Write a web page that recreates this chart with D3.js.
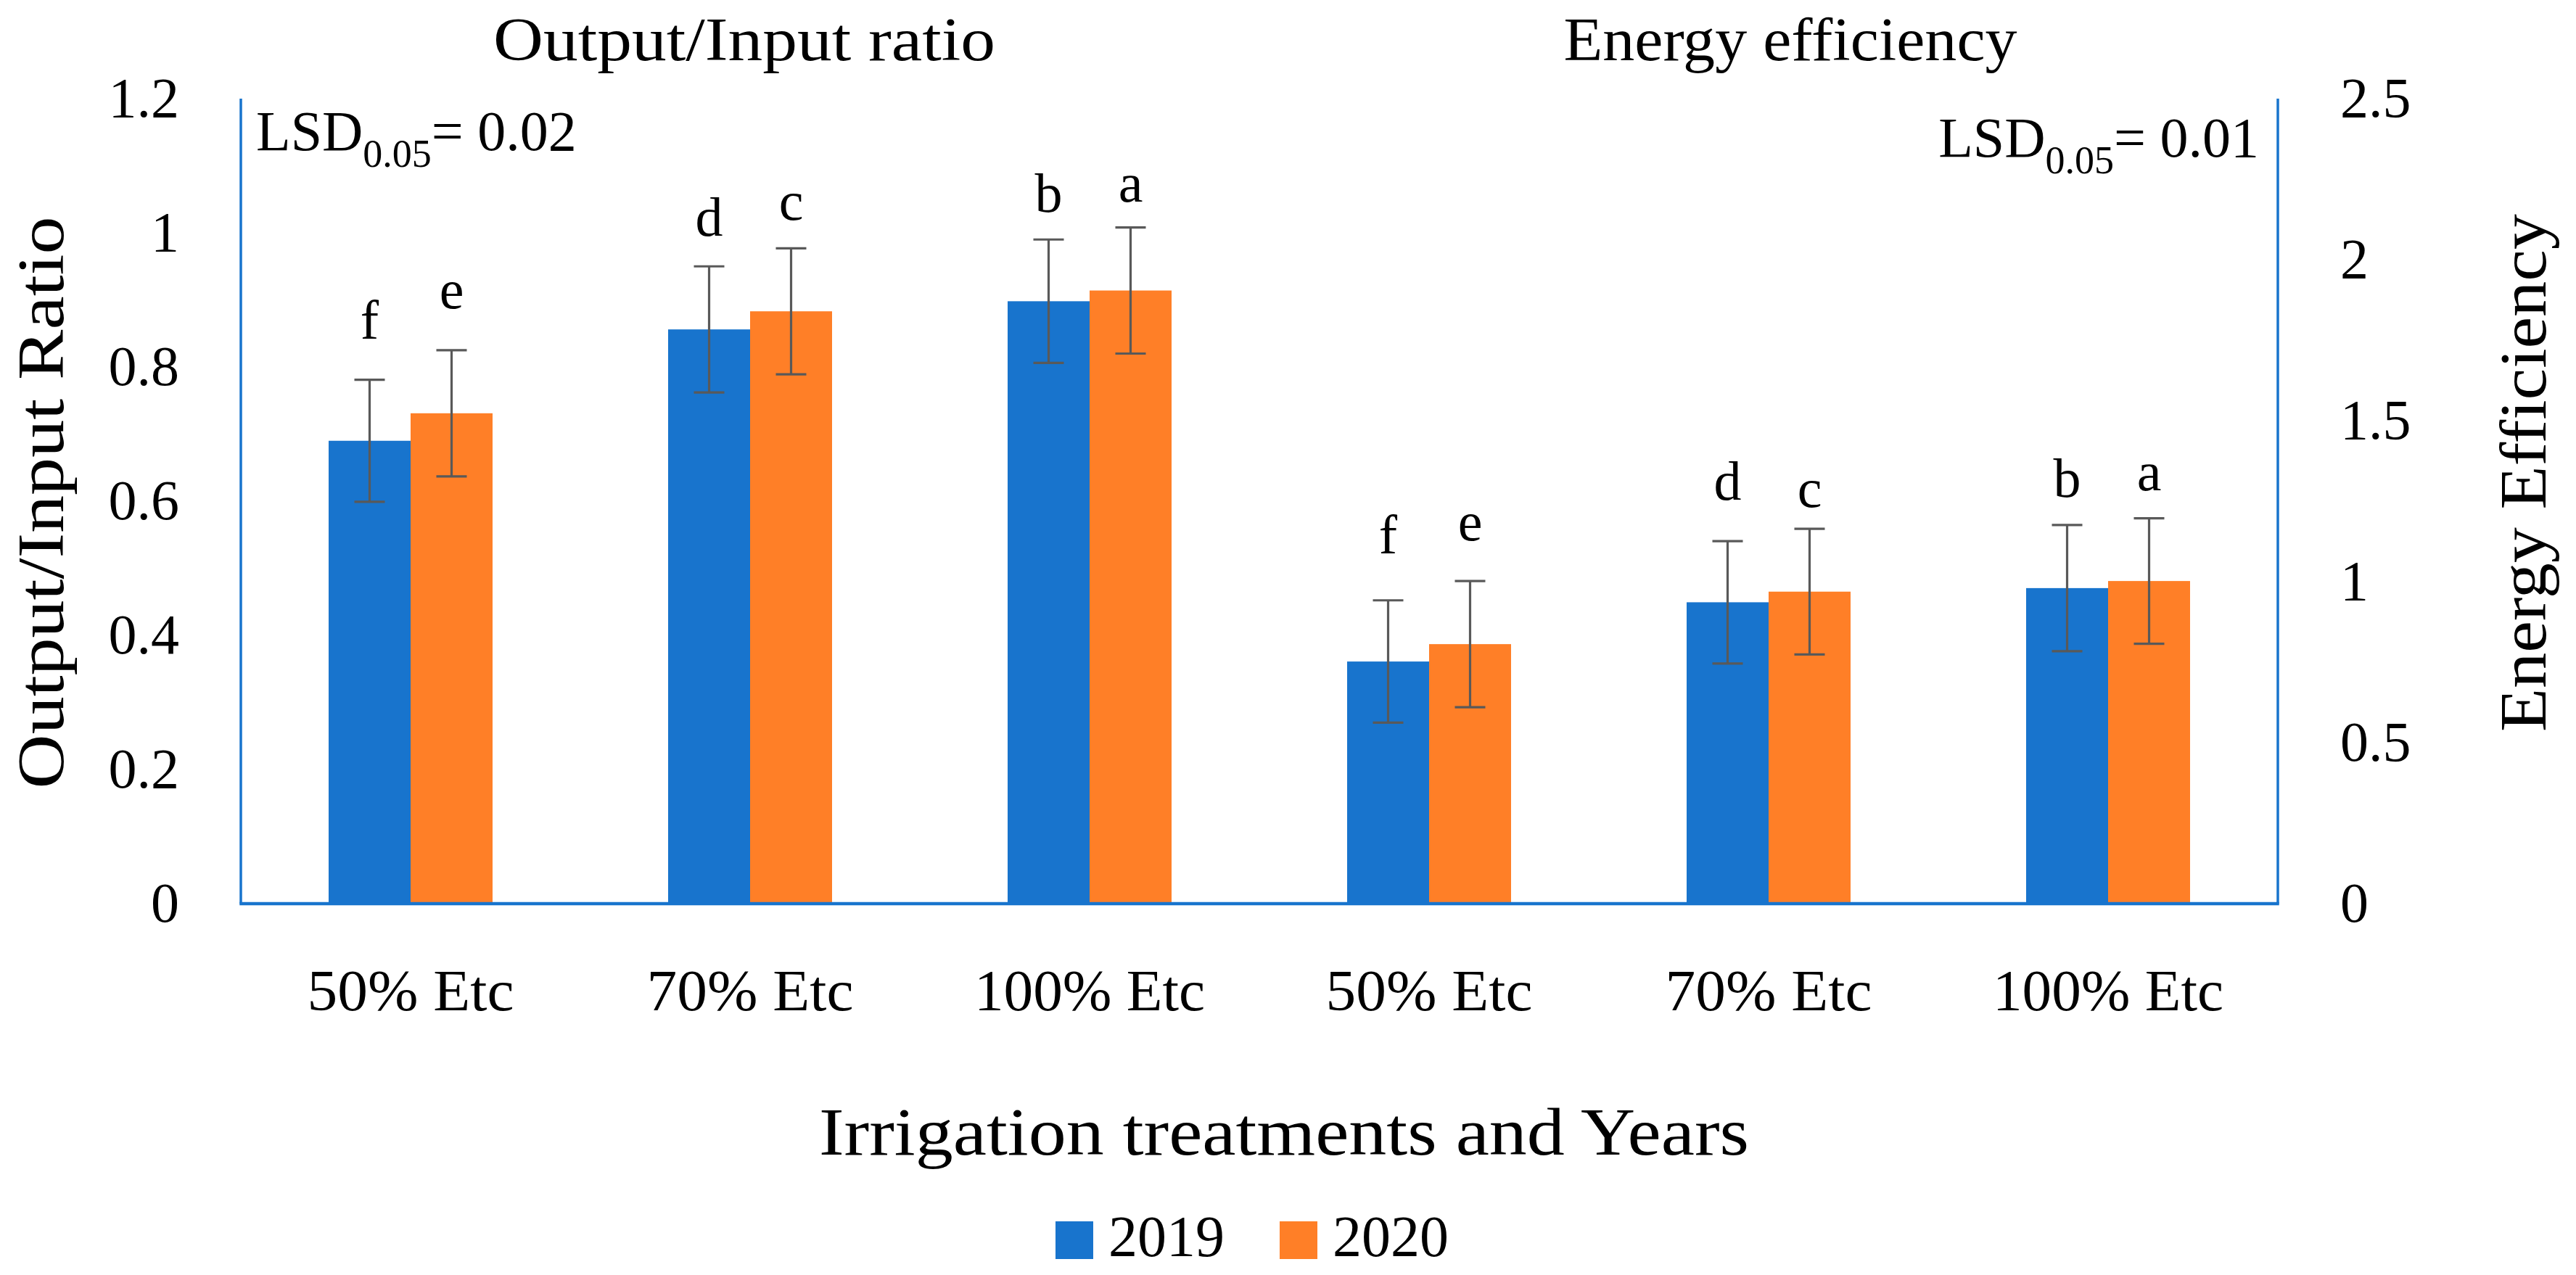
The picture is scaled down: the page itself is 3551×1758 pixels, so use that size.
<!DOCTYPE html>
<html>
<head>
<meta charset="utf-8">
<script src="https://cdn.jsdelivr.net/npm/d3@7"></script>
<style>
  html, body { margin: 0; padding: 0; background: #fff; }
  svg { display: block; }
  text { font-family: "Palatino Linotype", "Book Antiqua", Palatino, "Liberation Serif", serif; fill: #000; }
</style>
</head>
<body>
<svg id="chart" width="3551" height="1758"></svg>
<script>
// ---------------- data ----------------
const categories = ["50% Etc", "70% Etc", "100% Etc", "50% Etc", "70% Etc", "100% Etc"];
const axisOf = ["left", "left", "left", "right", "right", "right"];
const series = ["2019", "2020"];
const values2019 = [0.690, 0.856, 0.898, 0.752, 0.936, 0.980];
const values2020 = [0.731, 0.883, 0.914, 0.806, 0.969, 1.002];
const err2019 = [0.091, 0.094, 0.092, 0.190, 0.190, 0.196];
const err2020 = [0.094, 0.094, 0.094, 0.196, 0.195, 0.195];
const letters2019 = ["f", "d", "b", "f", "d", "b"];
const letters2020 = ["e", "c", "a", "e", "c", "a"];
const letterAt2019 = [0.842, 0.996, 1.031, 1.088, 1.255, 1.264];
const letterAt2020 = [0.888, 1.020, 1.046, 1.129, 1.233, 1.284];
const leftTicks = [0, 0.2, 0.4, 0.6, 0.8, 1, 1.2];
const rightTicks = [0, 0.5, 1, 1.5, 2, 2.5];
const panelTitles = ["Output/Input ratio", "Energy efficiency"];
const lsdValues = ["0.02", "0.01"];
const colors = ["#1874CD", "#FF7F27"];

// ---------------- layout ----------------
const svg = d3.select("#chart");
const W = 3551, H = 1758;
svg.append("rect").attr("width", W).attr("height", H).attr("fill", "#fff");

const plot = { left: 332, right: 3140, top: 136, bottom: 1246 };

const x0 = d3.scaleBand().domain(d3.range(categories.length)).range([plot.left, plot.right]).padding(0);
const x1 = d3.scaleBand().domain(series).range([0, x0.bandwidth()]).paddingInner(0).paddingOuter(1.071);
const yL = d3.scaleLinear().domain([0, 1.2]).range([plot.bottom, plot.top]);
const yR = d3.scaleLinear().domain([0, 2.5]).range([plot.bottom, plot.top]);
const yOf = i => axisOf[i] === "left" ? yL : yR;

const rows = [];
categories.forEach((c, i) => {
  rows.push({ i, s: series[0], v: values2019[i], e: err2019[i], lab: letters2019[i], la: letterAt2019[i] });
  rows.push({ i, s: series[1], v: values2020[i], e: err2020[i], lab: letters2020[i], la: letterAt2020[i] });
});
const color = d3.scaleOrdinal().domain(series).range(colors);

// bars
svg.append("g").selectAll("rect").data(rows).join("rect")
  .attr("x", d => x0(d.i) + x1(d.s))
  .attr("width", x1.bandwidth())
  .attr("y", d => yOf(d.i)(d.v))
  .attr("height", d => yOf(d.i)(0) - yOf(d.i)(d.v))
  .attr("fill", d => color(d.s));

// error bars
const eg = svg.append("g").attr("stroke", "#595959").attr("stroke-width", 3.2);
rows.forEach(d => {
  const cx = x0(d.i) + x1(d.s) + x1.bandwidth() / 2;
  const y = yOf(d.i);
  const capHalf = 21;
  eg.append("line").attr("x1", cx).attr("x2", cx).attr("y1", y(d.v + d.e)).attr("y2", y(d.v - d.e));
  eg.append("line").attr("x1", cx - capHalf).attr("x2", cx + capHalf).attr("y1", y(d.v + d.e)).attr("y2", y(d.v + d.e));
  eg.append("line").attr("x1", cx - capHalf).attr("x2", cx + capHalf).attr("y1", y(d.v - d.e)).attr("y2", y(d.v - d.e));
});

// significance letters
svg.append("g").selectAll("text").data(rows).join("text")
  .attr("x", d => x0(d.i) + x1(d.s) + x1.bandwidth() / 2)
  .attr("y", d => yOf(d.i)(d.la))
  .attr("text-anchor", "middle")
  .attr("font-size", 76)
  .text(d => d.lab);

// frame lines (left, right, bottom)
const frame = svg.append("g").attr("stroke", "#1874CD").attr("fill", "none");
frame.append("line").attr("x1", plot.left).attr("x2", plot.left).attr("y1", yL.range()[1]).attr("y2", yL.range()[0]).attr("stroke-width", 3.5);
frame.append("line").attr("x1", plot.right).attr("x2", plot.right).attr("y1", yR.range()[1]).attr("y2", yR.range()[0]).attr("stroke-width", 3.5);
frame.append("line").attr("x1", plot.left - 1.75).attr("x2", plot.right + 1.75).attr("y1", plot.bottom).attr("y2", plot.bottom).attr("stroke-width", 4.5);

// axes
const axL = svg.append("g").attr("transform", `translate(${plot.left},0)`)
  .call(d3.axisLeft(yL).tickValues(leftTicks).tickFormat(d => String(d)).tickSize(0).tickPadding(85));
const axR = svg.append("g").attr("transform", `translate(${plot.right},0)`)
  .call(d3.axisRight(yR).tickValues(rightTicks).tickFormat(d => String(d)).tickSize(0).tickPadding(86));
[axL, axR].forEach(a => {
  a.select(".domain").remove();
  a.selectAll("text").attr("font-size", 78).attr("fill", "#000")
    .attr("font-family", "\"Palatino Linotype\", \"Book Antiqua\", Palatino, \"Liberation Serif\", serif");
});

// category labels
svg.append("g").selectAll("text").data(categories).join("text")
  .attr("x", (d, i) => x0(i) + x0.bandwidth() / 2)
  .attr("y", 1393)
  .attr("text-anchor", "middle")
  .attr("font-size", 80)
  .attr("textLength", d => d.length > 7 ? 318 : 285)
  .attr("lengthAdjust", "spacingAndGlyphs")
  .text(d => d);

// panel titles
const titleX = [1026, 2468];
const titleLen = [692, 625];
panelTitles.forEach((t, k) => {
  svg.append("text").attr("x", titleX[k]).attr("y", 83).attr("text-anchor", "middle")
    .attr("font-size", 84)
    .attr("textLength", titleLen[k]).attr("lengthAdjust", "spacingAndGlyphs")
    .text(t);
});

// LSD annotations
function lsd(x, y, anchor, val) {
  const t = svg.append("text").attr("x", x).attr("y", y).attr("text-anchor", anchor).attr("font-size", 78);
  t.append("tspan").text("LSD");
  t.append("tspan").attr("font-size", 54).attr("dy", 23).text("0.05");
  t.append("tspan").attr("dy", -23).text("= " + val);
}
lsd(353, 207, "start", lsdValues[0]);
lsd(3114, 216, "end", lsdValues[1]);

// axis titles
svg.append("text")
  .attr("transform", `translate(87,693) rotate(-90)`)
  .attr("text-anchor", "middle").attr("font-size", 90)
  .attr("textLength", 789).attr("lengthAdjust", "spacingAndGlyphs")
  .text("Output/Input Ratio");
svg.append("text")
  .attr("transform", `translate(3509,652) rotate(-90)`)
  .attr("text-anchor", "middle").attr("font-size", 92)
  .attr("textLength", 714).attr("lengthAdjust", "spacingAndGlyphs")
  .text("Energy Efficiency");
svg.append("text")
  .attr("x", 1770).attr("y", 1592).attr("text-anchor", "middle").attr("font-size", 94)
  .attr("textLength", 1282).attr("lengthAdjust", "spacingAndGlyphs")
  .text("Irrigation treatments and Years");

// legend
const legendX = [1455, 1764];
series.forEach((s, k) => {
  svg.append("rect").attr("x", legendX[k]).attr("y", 1684).attr("width", 52).attr("height", 52).attr("fill", color(s));
  svg.append("text").attr("x", legendX[k] + 73).attr("y", 1732).attr("font-size", 80).text(s);
});
</script>
</body>
</html>
